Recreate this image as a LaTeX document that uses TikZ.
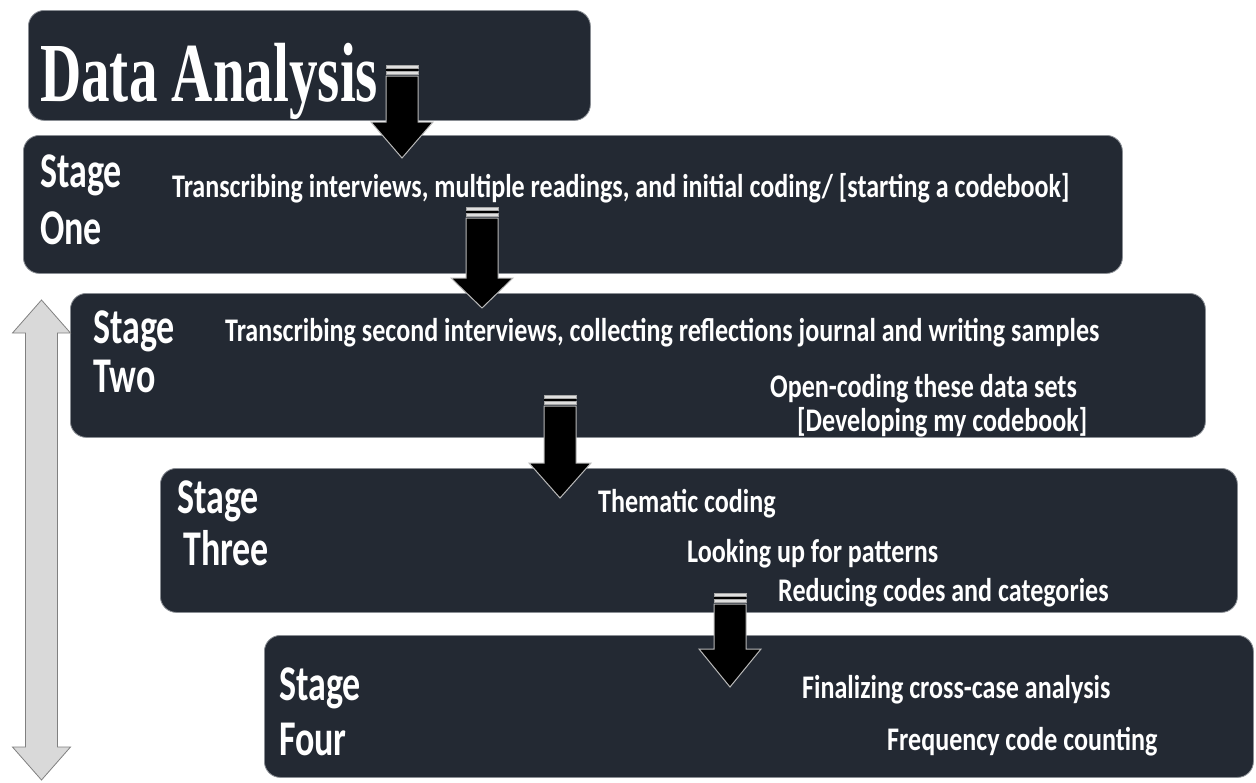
\documentclass[tikz,border=0pt]{standalone}
\usepackage{fontspec}
\newfontfamily\stagefont[FakeStretch=0.72]{Carlito}
\newfontfamily\descfont[FakeStretch=0.79]{Carlito}
\newfontfamily\headfont[FakeStretch=0.68]{Liberation Serif}
\definecolor{boxfill}{HTML}{232933}
\definecolor{boxedge}{HTML}{8A8E94}
\definecolor{sidefill}{HTML}{D9D9D9}
\definecolor{sideedge}{HTML}{808080}

% block arrow pointing down: #1 centre x, #2 top of stripes, #3 head base, #4 tip
\newcommand\flowarrow[4]{%
  \draw[fill=black, draw=gray!55, line width=1pt, line join=miter]
    (#1-16,#2+11) -- (#1+16,#2+11) -- (#1+16,#3) -- (#1+31,#3) -- (#1,#4)
    -- (#1-31,#3) -- (#1-16,#3) -- cycle;
  \draw[fill=gray!25, draw=gray!70, line width=0.6pt] (#1-16,#2) rectangle (#1+16,#2+3.5);
  \fill[black] (#1-16,#2+3.5) rectangle (#1+16,#2+6.5);
  \draw[fill=gray!25, draw=gray!70, line width=0.6pt] (#1-16,#2+6.5) rectangle (#1+16,#2+9.5);
}

\tikzset{
  stagebox/.style={draw=boxedge, line width=0.8pt, fill=boxfill,
    rounded corners=16pt, anchor=north west, inner sep=0pt},
  stagelabel/.style={anchor=base west, inner sep=0pt, text=white,
    font=\stagefont\bfseries\fontsize{50}{56}\selectfont},
  stagetext/.style={anchor=base west, inner sep=0pt, text=white,
    font=\descfont\bfseries\fontsize{33}{37}\selectfont},
}

\begin{document}
\begin{tikzpicture}[x=1pt, y=-1pt]
\useasboundingbox (0,0) rectangle (1256,782);

% boxes
\node[stagebox, minimum width=562pt, minimum height=110pt] (title) at (28,10) {};
\node[stagebox, minimum width=1099pt, minimum height=138pt] (one) at (23,135) {};
\node[stagebox, minimum width=1135pt, minimum height=144pt] (two) at (70,293) {};
\node[stagebox, minimum width=1077pt, minimum height=144pt] (three) at (160,468) {};
\node[stagebox, minimum width=989pt, minimum height=142pt] (four) at (264,635) {};

% title
\node[anchor=base west, inner sep=0pt, text=white,
      font=\headfont\bfseries\fontsize{84}{90}\selectfont] (titletext) at (40,101) {Data Analysis};

% stage one
\node[stagelabel] (s1a) at (40,187) {Stage};
\node[stagelabel] (s1b) at (40,244) {One};
\node[stagetext] (t1) at (172,197) {Transcribing interviews, multiple readings, and initial coding/ [starting a codebook]};

% stage two
\node[stagelabel] (s2a) at (93,343) {Stage};
\node[stagelabel] (s2b) at (93,392) {Two};
\node[stagetext] (t2a) at (225,341) {Transcribing second interviews, collecting reflections journal and writing samples};
\node[stagetext] (t2b) at (770,397) {Open-coding these data sets};
\node[stagetext] (t2c) at (797,431) {[Developing my codebook]};

% stage three
\node[stagelabel] (s3a) at (177,513) {Stage};
\node[stagelabel] (s3b) at (183,565) {Three};
\node[stagetext] (t3a) at (598,512) {Thematic coding};
\node[stagetext] (t3b) at (687,562) {Looking up for patterns};
\node[stagetext] (t3c) at (778,601) {Reducing codes and categories};

% stage four
\node[stagelabel] (s4a) at (279,700) {Stage};
\node[stagelabel] (s4b) at (279,755) {Four};
\node[stagetext] (t4a) at (802,698) {Finalizing cross-case analysis};
\node[stagetext] (t4b) at (887,750) {Frequency code counting};

% flow arrows between the stages
\flowarrow{402}{65}{122}{158}
\flowarrow{482}{207}{278}{308}
\flowarrow{560}{395}{463}{498}
\flowarrow{730}{593}{649}{687}

% two-headed arrow along the left side
\draw[fill=sidefill, draw=sideedge, line width=0.8pt]
  (41.5,300) -- (70.5,333) -- (57.5,333) -- (57.5,747) -- (70.5,747) -- (41.5,780)
  -- (12.5,747) -- (25.5,747) -- (25.5,333) -- (12.5,333) -- cycle;
\end{tikzpicture}
\end{document}
